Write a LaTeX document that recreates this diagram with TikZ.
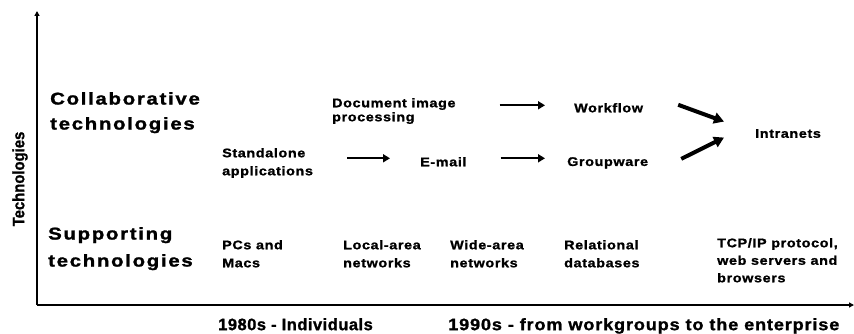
\documentclass[tikz,border=0pt]{standalone}
\usepackage{fontspec}
\usetikzlibrary{arrows.meta}
\newfontfamily\widefont{Liberation Sans Bold}[FakeStretch=1.2,LetterSpace=10,FakeBold=1.5]
\newfontfamily\smallfont{Liberation Sans Bold}[FakeStretch=1.15,LetterSpace=5,FakeBold=1.2]
\newfontfamily\botfont{Liberation Sans Bold}[FakeStretch=1.1,LetterSpace=5,FakeBold=1.2]
\newfontfamily\botnarrowfont{Liberation Sans Bold}[FakeStretch=1.0,LetterSpace=3,FakeBold=1.2]
\newfontfamily\narrowfont{Liberation Sans Bold}[FakeStretch=0.9,FakeBold=1.2]
\tikzset{
  biglabel/.style={anchor=north west,align=left,inner sep=0pt,font=\widefont\fontsize{17}{25}\selectfont},
  smalllabel/.style={anchor=north west,align=left,inner sep=0pt,font=\smallfont\fontsize{12.5}{18}\selectfont},
  botlabel/.style={anchor=north west,inner sep=0pt,font=\botfont\fontsize{16.5}{20}\selectfont},
  axisline/.style={line width=2pt,-{Triangle[length=5pt,width=5pt]}},
  harrow/.style={line width=2.4pt,-{Triangle[length=7pt,width=8pt]}},
  darrow/.style={line width=4pt,-{Triangle[length=10pt,width=11pt]}}
}
\begin{document}
\begin{tikzpicture}[x=1pt,y=-1pt]
\useasboundingbox[fill=white] (0,0) rectangle (854,334);
% axes
\coordinate (origin) at (37,305);
\coordinate (ytop) at (37,11);
\coordinate (xend) at (854,305);
\draw[axisline] (origin) -- (ytop);
\draw[axisline] (origin) -- (xend);
\node[rotate=90,inner sep=0pt,font=\narrowfont\fontsize{16.5}{20}\selectfont] (techaxis) at (20,179) {Technologies};
% row labels
\node[biglabel] (collab) at (50,92) {Collaborative\\technologies};
\node[biglabel,font=\widefont\fontsize{17}{27}\selectfont] (support) at (48,227) {Supporting\\technologies};
% collaborative technologies
\node[smalllabel] (standalone) at (222,148) {Standalone\\applications};
\node[smalllabel,font=\smallfont\fontsize{12.5}{14}\selectfont] (docimg) at (332,98) {Document image\\processing};
\node[smalllabel] (email) at (420,157) {E-mail};
\node[smalllabel] (workflow) at (574,103) {Workflow};
\node[smalllabel] (groupware) at (567,157) {Groupware};
\node[smalllabel] (intranets) at (755,129) {Intranets};
% supporting technologies
\node[smalllabel] (pcs) at (222,240) {PCs and\\Macs};
\node[smalllabel] (lan) at (343,240) {Local-area\\networks};
\node[smalllabel] (wan) at (450,240) {Wide-area\\networks};
\node[smalllabel] (rdb) at (564,240) {Relational\\databases};
\node[smalllabel,font=\smallfont\fontsize{12.5}{17.5}\selectfont] (tcp) at (717,238) {TCP/IP protocol,\\web servers and\\browsers};
% eras
\node[botlabel,font=\botnarrowfont\fontsize{16.5}{20}\selectfont] (e80) at (218,318) {1980s - Individuals};
\node[botlabel] (e90) at (448,318) {1990s - from workgroups to the enterprise};
% arrows
\draw[harrow] ([xshift=34pt,yshift=3.5pt]standalone.east |- email.west) -- ([xshift=-30pt,yshift=3.5pt]email.west);
\draw[harrow] ([xshift=44pt,yshift=2.5pt]docimg.east |- workflow.west) -- ([xshift=-29pt,yshift=2.5pt]workflow.west);
\draw[harrow] ([xshift=34pt,yshift=3.5pt]email.east) -- ([xshift=-22pt,yshift=3.5pt]groupware.west |- email.west);
\draw[darrow] ([shift={(35,-3)}]workflow.east) -- ([shift={(-31,-12)}]intranets.west);
\draw[darrow] ([shift={(33,-4)}]groupware.east) -- ([shift={(-31,4)}]intranets.west);
\end{tikzpicture}
\end{document}
